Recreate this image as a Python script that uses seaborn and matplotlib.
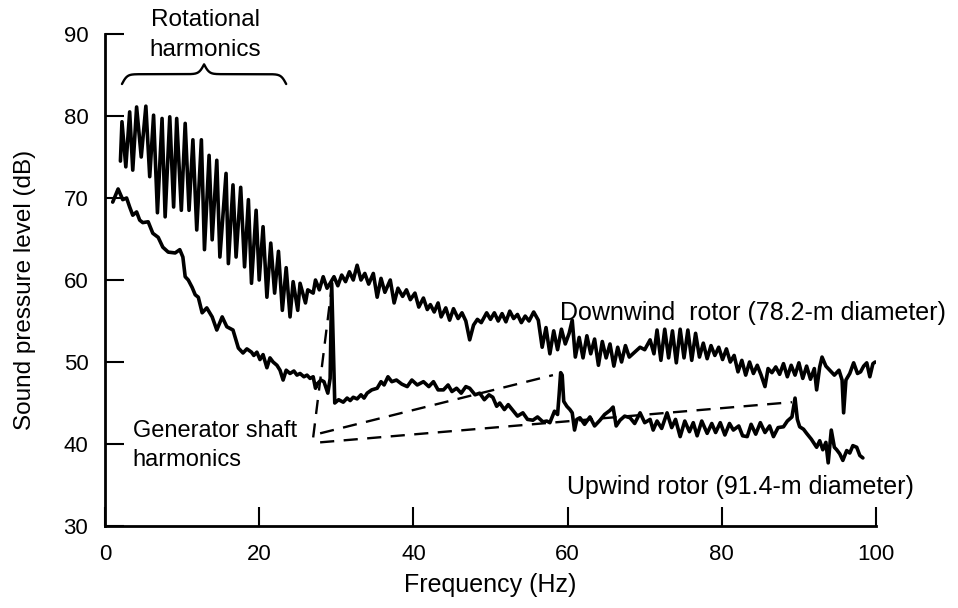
import numpy as np
import pandas as pd
import matplotlib
matplotlib.use("Agg")
import matplotlib.pyplot as plt
import seaborn as sns

# ---------------- data ----------------
down_freq = [2.0, 2.2, 2.7, 3.2, 3.6, 4.1, 4.7, 5.3, 5.8, 6.3, 6.8, 7.4, 7.8, 8.4, 8.9, 9.3, 9.9, 10.4,
             10.9, 11.4, 11.9, 12.5, 12.9, 13.5, 13.9, 14.5, 14.9, 15.7, 16.0, 16.6, 17.0, 17.6, 18.1,
             18.6, 19.0, 19.6, 20.0, 20.5, 21.0, 21.5, 22.0, 22.5, 23.0, 23.5, 24.0, 24.4, 25.0, 25.3,
             26.0, 26.3, 27.0, 27.3, 27.8, 28.3, 28.8, 29.2, 29.7, 30.2, 30.7, 31.2, 31.7, 32.2, 32.7,
             33.2, 33.7, 34.2, 34.8, 35.3, 35.8, 36.3, 37.0, 37.5, 38.0, 38.6, 39.1, 39.6, 40.2, 40.7,
             41.3, 41.8, 42.2, 42.7, 43.2, 43.6, 44.2, 44.7, 45.2, 45.8, 46.3, 46.8, 47.3, 47.8, 48.3,
             48.8, 49.5, 50.0, 50.5, 51.0, 51.5, 52.0, 52.5, 53.0, 53.5, 54.0, 54.5, 55.0, 55.6, 56.2,
             56.7, 57.2, 57.7, 58.2, 58.7, 59.2, 59.7, 60.2, 60.6, 61.0, 61.5, 62.0, 62.5, 63.0, 63.5,
             64.0, 64.5, 65.0, 65.5, 66.0, 66.5, 67.0, 67.5, 68.0, 68.7, 69.4, 70.0, 70.7, 71.2, 71.6,
             72.1, 72.6, 73.1, 73.6, 74.1, 74.6, 75.1, 75.6, 76.1, 76.6, 77.1, 77.6, 78.1, 78.6, 79.1,
             79.6, 80.1, 80.6, 81.1, 81.6, 82.1, 82.6, 83.1, 83.6, 84.1, 84.6, 85.1, 85.6, 86.0, 86.5,
             87.0, 87.5, 88.0, 88.5, 89.0, 89.5, 90.0, 90.5, 91.0, 91.5, 92.0, 92.3, 92.7, 93.0, 93.5,
             94.0, 94.6, 95.2, 95.6, 95.8, 96.1, 96.6, 97.1, 97.6, 98.0, 98.4, 98.8, 99.2, 99.6, 99.9]
down_level = [74.5, 79.3, 73.8, 80.5, 73.4, 81.1, 75.0, 81.2, 72.6, 80.1, 68.2, 79.7, 67.7, 79.9, 68.9,
              79.7, 68.5, 79.1, 68.5, 77.1, 66.1, 77.1, 63.7, 75.2, 64.9, 74.6, 62.8, 73.0, 62.0, 71.6,
              62.8, 71.3, 61.6, 69.8, 59.6, 68.5, 60.0, 66.5, 57.9, 64.5, 58.4, 63.5, 56.3, 61.5, 55.5,
              59.8, 56.3, 59.6, 57.2, 58.8, 58.4, 60.0, 58.8, 60.4, 59.0, 59.6, 60.4, 59.3, 60.6, 59.8,
              61.0, 60.0, 61.8, 60.0, 60.8, 59.5, 60.8, 57.9, 60.2, 58.5, 60.0, 57.2, 59.0, 58.0, 58.8,
              57.6, 58.4, 56.7, 57.8, 56.4, 57.0, 56.1, 57.2, 55.5, 56.6, 55.1, 56.5, 55.3, 56.0, 55.0,
              52.7, 54.5, 55.2, 54.8, 56.0, 55.2, 56.0, 55.0, 55.9, 54.9, 56.2, 55.3, 55.8, 54.8, 55.6,
              55.0, 56.1, 55.1, 51.8, 54.2, 51.0, 53.8, 51.5, 54.0, 52.2, 53.5, 55.1, 50.6, 53.0, 50.5,
              53.2, 51.0, 52.8, 49.6, 52.5, 50.5, 52.2, 49.5, 51.8, 50.0, 52.0, 50.6, 51.2, 51.8, 51.5,
              52.7, 51.0, 53.9, 50.2, 54.0, 50.5, 53.8, 49.9, 54.0, 50.5, 53.9, 50.2, 53.5, 50.6, 52.3,
              50.4, 52.0, 50.8, 51.8, 50.3, 51.6, 50.0, 50.8, 48.8, 50.2, 48.4, 50.0, 48.6, 49.6, 48.4,
              47.0, 49.2, 48.7, 49.4, 48.5, 49.8, 48.2, 49.6, 48.4, 49.9, 48.0, 49.5, 47.9, 49.2, 46.6,
              49.4, 50.6, 49.5, 49.0, 48.4, 49.0, 47.8, 43.8, 47.8, 48.6, 49.9, 48.6, 48.8, 49.5, 49.9,
              48.2, 49.8, 50.0]

up_freq = [1.0, 1.3, 1.7, 2.3, 2.8, 3.2, 3.6, 4.1, 4.5, 4.9, 5.6, 6.2, 6.9, 7.5, 8.2, 9.1, 9.7, 10.1,
           10.4, 10.8, 11.3, 11.7, 12.1, 12.6, 13.2, 13.9, 14.5, 15.2, 15.8, 16.6, 17.3, 17.9, 18.4,
           19.0, 19.3, 19.7, 20.1, 20.5, 21.0, 21.4, 21.8, 22.3, 22.7, 23.1, 23.5, 24.0, 24.5, 24.9,
           25.3, 25.8, 26.2, 26.6, 27.0, 27.3, 27.6, 28.0, 28.4, 28.9, 29.2, 29.4, 29.8, 30.3, 30.9,
           31.4, 31.8, 32.2, 32.7, 33.2, 33.6, 34.0, 34.6, 35.3, 35.8, 36.2, 36.7, 37.2, 37.8, 38.5,
           39.2, 39.8, 40.5, 41.3, 42.0, 42.6, 43.2, 43.9, 44.5, 45.0, 45.6, 46.2, 46.8, 47.3, 48.0,
           48.6, 49.2, 49.8, 50.3, 50.8, 51.2, 51.8, 52.3, 52.9, 53.5, 54.2, 54.8, 55.5, 56.1, 56.8,
           57.3, 57.7, 58.3, 58.7, 58.9, 59.1, 59.3, 59.5, 59.9, 60.3, 60.6, 60.9, 61.2, 61.6, 62.2,
           62.9, 63.5, 64.2, 64.8, 65.5, 65.9, 66.3, 66.8, 67.4, 68.1, 68.7, 69.4, 70.0, 70.7, 71.1,
           71.6, 72.2, 72.9, 73.5, 74.0, 74.6, 75.2, 75.8, 76.3, 76.8, 77.4, 78.1, 78.7, 79.2, 79.8,
           80.4, 81.0, 81.5, 82.2, 82.7, 83.3, 83.8, 84.4, 85.0, 85.6, 86.2, 86.7, 87.3, 88.0, 88.5,
           89.1, 89.5, 89.8, 90.1, 90.6, 91.0, 91.6, 92.3, 92.7, 93.1, 93.5, 93.8, 94.2, 94.6, 94.9,
           95.3, 95.7, 96.2, 96.6, 97.0, 97.5, 97.9, 98.3]
up_level = [69.5, 70.2, 71.1, 69.8, 70.0, 68.9, 67.9, 68.3, 67.3, 67.0, 67.1, 65.7, 65.2, 64.0, 63.4,
            63.3, 63.7, 62.8, 60.4, 60.0, 59.1, 58.2, 57.9, 56.0, 56.6, 55.5, 53.9, 55.5, 54.3, 53.9,
            51.7, 51.1, 51.6, 51.2, 50.8, 51.2, 50.3, 50.9, 49.3, 50.5, 50.0, 49.6, 49.0, 47.8, 49.0,
            48.6, 48.9, 48.4, 48.6, 48.2, 48.4, 48.0, 48.2, 46.8, 47.4, 47.8, 47.6, 46.2, 48.0, 59.6,
            45.0, 45.4, 45.1, 45.6, 45.3, 45.7, 45.5, 46.0, 45.6, 46.2, 46.6, 46.8, 47.6, 47.2, 48.2,
            47.6, 47.8, 47.3, 47.0, 47.8, 47.2, 47.6, 47.0, 47.6, 46.6, 46.6, 47.2, 46.4, 46.8, 46.2,
            47.0, 46.8, 46.0, 46.2, 45.4, 46.0, 45.7, 44.6, 45.0, 44.2, 44.8, 44.1, 43.4, 43.8, 43.0,
            42.9, 43.3, 42.7, 42.8, 42.6, 44.0, 43.6, 46.0, 48.7, 48.4, 45.2, 44.6, 44.2, 43.8, 41.7,
            43.0, 43.2, 42.4, 43.3, 42.2, 42.9, 43.6, 44.1, 44.5, 42.2, 42.9, 43.4, 43.2, 42.5, 43.8,
            42.6, 43.0, 41.7, 42.8, 41.9, 43.8, 42.0, 43.0, 40.9, 42.8, 41.5, 42.6, 41.0, 42.8, 41.3,
            42.5, 41.4, 42.6, 41.1, 42.5, 41.7, 42.2, 41.0, 40.9, 42.4, 41.2, 42.6, 41.4, 42.2, 40.9,
            42.0, 42.1, 42.8, 43.3, 45.6, 43.0, 42.1, 41.8, 41.3, 40.6, 39.6, 40.4, 39.3, 40.2, 37.7,
            41.7, 39.6, 39.3, 38.8, 38.0, 39.2, 38.9, 39.8, 39.6, 38.6, 38.3]

x_ticks = [0, 20, 40, 60, 80, 100]
y_ticks = [30, 40, 50, 60, 70, 80, 90]

# generator-shaft harmonic call-out: label anchor and the three spike tops
gen_label_anchor = [(27.0, 40.8), (27.9, 41.3), (27.9, 40.2)]
gen_spike_tops = [(29.4, 59.1), (58.1, 48.4), (89.1, 45.1)]

# ---------------- plotting ----------------
sns.set_style("ticks")
plt.rcParams['font.family'] = ['Liberation Sans', 'DejaVu Sans']
plt.rcParams['text.color'] = 'black'
plt.rcParams['axes.labelcolor'] = 'black'
plt.rcParams['xtick.color'] = 'black'
plt.rcParams['ytick.color'] = 'black'

fig = plt.figure(figsize=(9.58, 6.08), dpi=100)
ax = fig.add_axes([105 / 958, 1 - 526 / 608, 771 / 958, 492 / 608])

df_down = pd.DataFrame({"Frequency": down_freq, "Level": down_level})
df_up = pd.DataFrame({"Frequency": up_freq, "Level": up_level})

sns.lineplot(data=df_down, x="Frequency", y="Level", ax=ax, color="black",
             linewidth=2.6, estimator=None, sort=False)
sns.lineplot(data=df_up, x="Frequency", y="Level", ax=ax, color="black",
             linewidth=2.6, estimator=None, sort=False)

# dashed call-out lines
for (x0, y0), (x1, y1) in zip(gen_label_anchor, gen_spike_tops):
    ax.plot([x0, x1], [y0, y1], color="black", linewidth=1.7,
            linestyle=(0, (6, 4)), clip_on=False)

# curly brace over the rotational harmonics
def brace(x0, x1, ybase, height, beta=3.0, n=400):
    half = (x1 - x0) / 2.0
    xh = np.linspace(0, half, n // 2)
    yh = (1 / (1 + np.exp(-beta * (xh - xh[0]))) +
          1 / (1 + np.exp(-beta * (xh - xh[-1]))))
    xs = np.concatenate([x0 + xh, x0 + half + xh])
    ys = np.concatenate([yh, yh[::-1]])
    return xs, ybase + (ys - 0.5) * height

bx, by = brace(2.2, 23.5, 83.9, 2.4)
ax.plot(bx, by, color="black", linewidth=1.7, clip_on=False)

ax.text(13.0, 91.7, "Rotational", ha="center", va="center", fontsize=17.5, clip_on=False)
ax.text(13.0, 88.1, "harmonics", ha="center", va="center", fontsize=17.5, clip_on=False)
ax.text(3.6, 41.6, "Generator shaft", ha="left", va="center", fontsize=17)
ax.text(3.6, 38.0, "harmonics", ha="left", va="center", fontsize=17)
ax.text(59.0, 56.0, "Downwind  rotor (78.2-m diameter)", ha="left", va="center",
        fontsize=18, clip_on=False)
ax.text(59.9, 34.8, "Upwind rotor (91.4-m diameter)", ha="left", va="center",
        fontsize=18, clip_on=False)

ax.set_xlim(0, 100)
ax.set_ylim(30, 90)
ax.set_xticks(x_ticks)
ax.set_yticks(y_ticks)
ax.set_xticklabels([str(t) for t in x_ticks])
ax.set_yticklabels([str(t) for t in y_ticks])
ax.tick_params(direction="in", length=14, width=1.5, labelsize=16, colors="black")
ax.tick_params(axis="y", pad=12)
ax.tick_params(axis="x", pad=13)

for side in ["top", "right"]:
    ax.spines[side].set_visible(False)
for side in ["left", "bottom"]:
    ax.spines[side].set_linewidth(2.0)
    ax.spines[side].set_color("black")

ax.set_xlabel("Frequency (Hz)", fontsize=18)
ax.set_ylabel("Sound pressure level (dB)", fontsize=17.5)
ax.xaxis.set_label_coords(0.5, -0.096)
ax.yaxis.set_label_coords(-0.09, 0.48)

fig.savefig("out.png", dpi=100)
